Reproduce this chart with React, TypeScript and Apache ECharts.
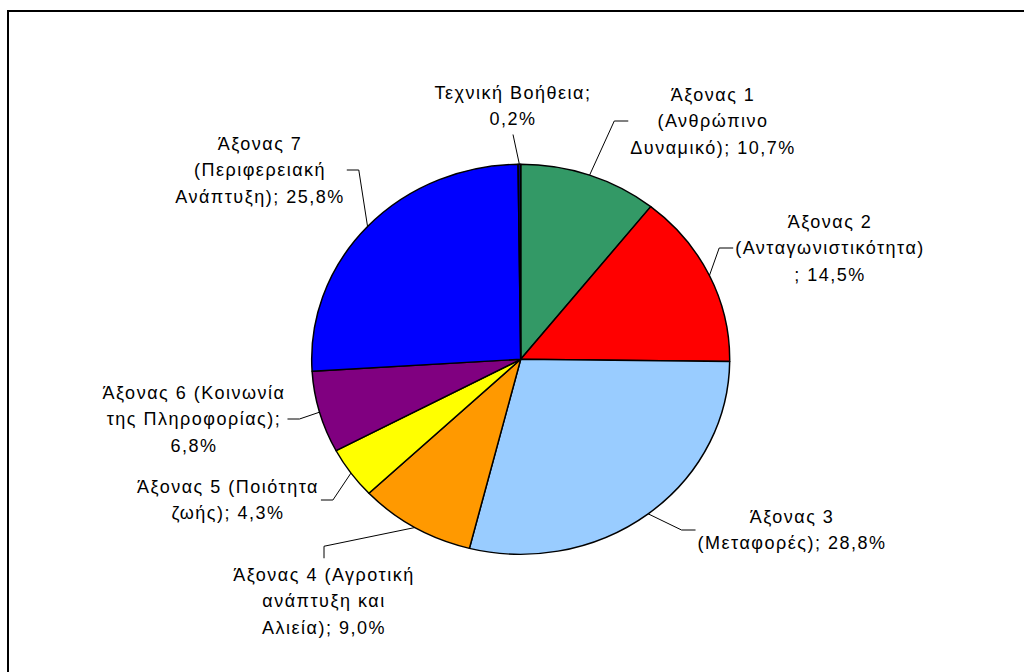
import React, { useEffect, useRef } from "react";
import * as echarts from "echarts";

// ---- data ----
const CATEGORIES = [
  "Άξονας 1\n(Ανθρώπινο\nΔυναμικό)",
  "Άξονας 2\n(Ανταγωνιστικότητα)",
  "Άξονας 3\n(Μεταφορές)",
  "Άξονας 4 (Αγροτική\nανάπτυξη και\nΑλιεία)",
  "Άξονας 5 (Ποιότητα\nζωής)",
  "Άξονας 6 (Κοινωνία\nτης Πληροφορίας)",
  "Άξονας 7\n(Περιφερειακή\nΑνάπτυξη)",
  "Τεχνική Βοήθεια",
];
const VALUES = [10.7, 14.5, 28.8, 9.0, 4.3, 6.8, 25.8, 0.2];
const SEPARATORS = ["; ", "\n; ", "; ", "; ", "; ", ";\n", "; ", ";\n"];

// ---- styles / layout ----
const COLORS = ["#339966", "#FF0000", "#99CCFF", "#FF9900", "#FFFF00", "#800080", "#0000FF", "#000080"];
const CX = 520.7;
const CY = 359.3;
const RX = 209;
const RY = 195;
const FONT = "'Liberation Sans', Arial, sans-serif";
const FONT_SIZE = 18;
const LETTER_SPACING = 1.5;
const LABEL_LAYOUT = [
  { x: 713, y: 121, side: "left" },
  { x: 830, y: 248, side: "left" },
  { x: 792, y: 530, side: "left" },
  { x: 324, y: 601, side: "top" },
  { x: 228, y: 500, side: "right" },
  { x: 194, y: 419, side: "right" },
  { x: 260, y: 170, side: "right" },
  { x: 513, y: 106, side: "bottom" },
];

const fmt = (v: number) => v.toFixed(1).replace(".", ",") + "%";
const labelText = (i: number) => CATEGORIES[i] + SEPARATORS[i] + fmt(VALUES[i]);

export default function App() {
  const pieRef = useRef<HTMLDivElement>(null);
  const labelRef = useRef<HTMLDivElement>(null);

  useEffect(() => {
    const total = VALUES.reduce((a, b) => a + b, 0);
    const pie = echarts.init(pieRef.current!, null, { renderer: "svg" });
    pie.setOption({
      animation: false,
      series: [
        {
          type: "pie",
          center: [CX, CY],
          radius: RX,
          startAngle: 90,
          clockwise: true,
          silent: true,
          label: { show: false },
          labelLine: { show: false },
          emphasis: { disabled: true },
          itemStyle: { borderColor: "#000", borderWidth: 1.5 },
          data: CATEGORIES.map((name, i) => ({
            name,
            value: VALUES[i],
            itemStyle: { color: COLORS[i] },
          })),
        },
      ],
    });

    const ctx = document.createElement("canvas").getContext("2d")!;
    ctx.font = `${FONT_SIZE}px ${FONT}`;
    const labelWidth = (i: number) =>
      Math.max(
        ...labelText(i)
          .split("\n")
          .map((s) => ctx.measureText(s).width + LETTER_SPACING * s.length)
      );

    const midPoint = (i: number) => {
      let start = 0;
      for (let k = 0; k < i; k++) start += VALUES[k];
      const t = ((start + VALUES[i] / 2) / total) * 2 * Math.PI;
      return [CX + RX * Math.sin(t), CY - RY * Math.cos(t)];
    };

    const lab = echarts.init(labelRef.current!, null, { renderer: "svg" });
    lab.setOption({
      animation: false,
      graphic: [
        {
          type: "rect",
          silent: true,
          shape: { x: 8, y: 11, width: 1200, height: 1000 },
          style: { fill: "none", stroke: "#000", lineWidth: 2 },
        },
      ],
      series: [
        {
          type: "pie",
          center: [CX, CY],
          radius: RX,
          startAngle: 90,
          clockwise: true,
          silent: true,
          avoidLabelOverlap: false,
          emphasis: { disabled: true },
          itemStyle: { color: "rgba(0,0,0,0)", borderWidth: 0 },
          label: {
            show: true,
            position: "outside",
            color: "#000",
            fontFamily: FONT,
            fontSize: FONT_SIZE,
            lineHeight: 26.5,
            align: "center",
            formatter: (p: any) => labelText(p.dataIndex),
          },
          labelLine: { show: true, length: 10, length2: 10, lineStyle: { color: "#000", width: 1 } },
          labelLayout: (params: any) => {
            const i = params.dataIndex;
            const L = LABEL_LAYOUT[i];
            const w = labelWidth(i);
            const h = params.labelRect.height;
            const p0 = midPoint(i);
            let end: number[];
            let elbow: number[];
            if (L.side === "left") {
              end = [L.x - w / 2 - 2, L.y];
              elbow = [end[0] - 14, L.y];
            } else if (L.side === "right") {
              end = [L.x + w / 2 + 2, L.y];
              elbow = [end[0] + 12, L.y];
            } else if (L.side === "top") {
              end = [L.x, L.y - h / 2 - 3];
              elbow = [L.x, end[1] - 12];
            } else {
              end = [L.x, L.y + h / 2 + 2];
              elbow = end;
            }
            return {
              x: L.x,
              y: L.y,
              align: "center",
              verticalAlign: "middle",
              labelLinePoints: [p0, elbow, end],
            };
          },
          data: CATEGORIES.map((name, i) => ({ name, value: VALUES[i] })),
        },
      ],
    });

    const spaceTexts = () => {
      labelRef.current?.querySelectorAll("text").forEach((t) => {
        (t as SVGTextElement).style.letterSpacing = `${LETTER_SPACING}px`;
      });
    };
    spaceTexts();
    lab.on("finished", spaceTexts);

    return () => {
      pie.dispose();
      lab.dispose();
    };
  }, []);

  return (
    <div
      style={{
        position: "fixed",
        left: 0,
        top: 0,
        width: 1024,
        height: 672,
        background: "#fff",
        overflow: "hidden",
      }}
    >
      <div
        ref={pieRef}
        style={{
          position: "absolute",
          left: 0,
          top: 0,
          width: 1024,
          height: 672,
          transform: `scaleY(${RY / RX})`,
          transformOrigin: `${CX}px ${CY}px`,
        }}
      />
      <div
        ref={labelRef}
        style={{ position: "absolute", left: 0, top: 0, width: 1024, height: 672 }}
      />
    </div>
  );
}
